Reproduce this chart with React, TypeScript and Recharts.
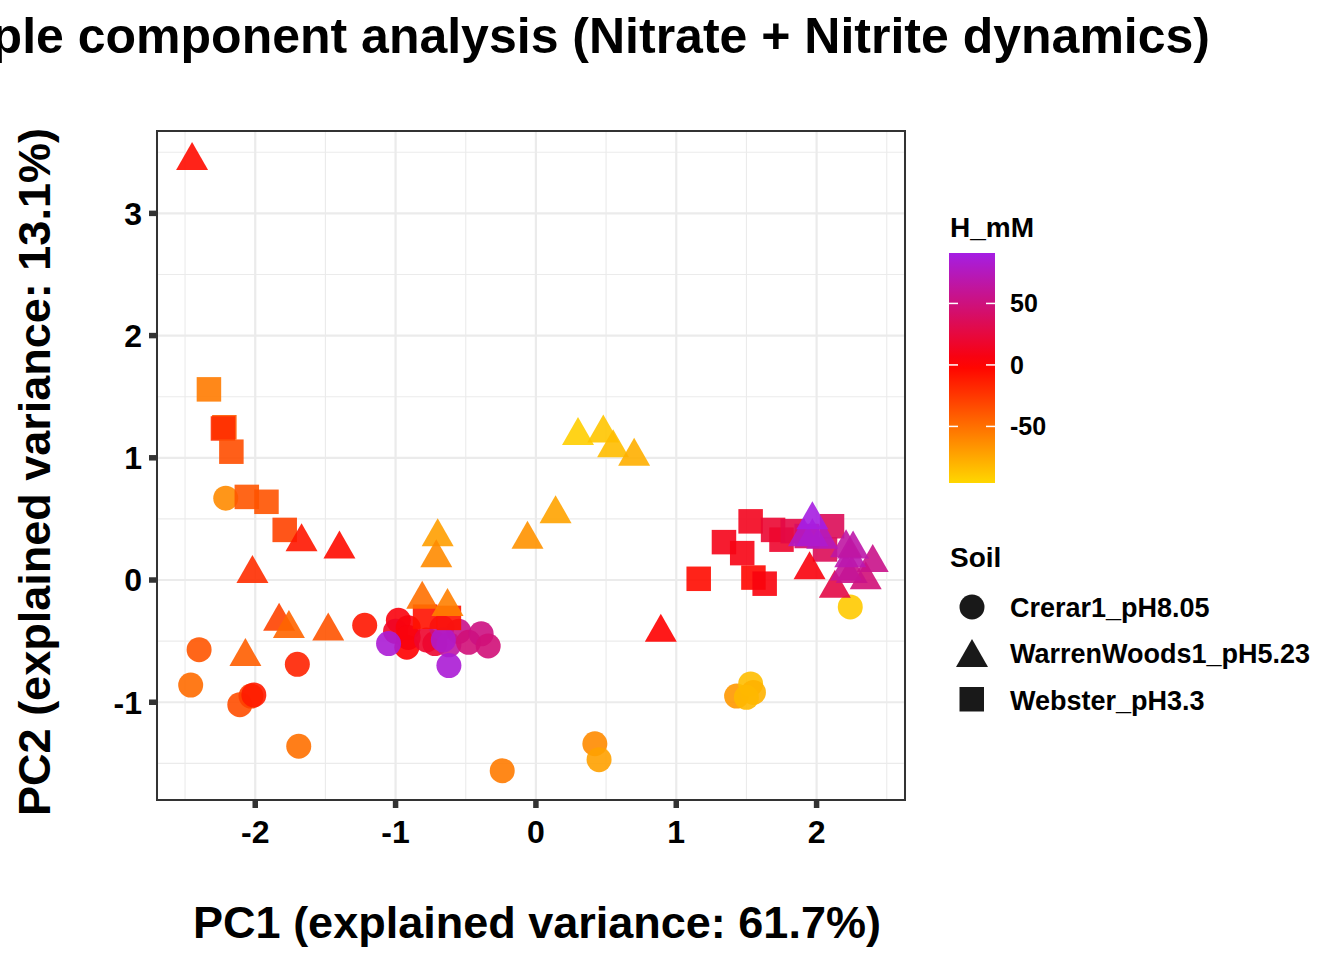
import React from 'react';
import { CartesianGrid, ReferenceArea, Scatter, ScatterChart, XAxis, YAxis } from 'recharts';

// [PC1, PC2, H_mM]
const CRERAR: [number, number, number][] = [
    [-2.21, 0.67, -62], [-1.22, -0.37, -10], [-2.40, -0.57, -38], [-1.70, -0.69, -15],
    [-2.46, -0.86, -48], [-2.11, -1.02, -35], [-2.03, -0.95, -28], [-2.01, -0.94, -12],
    [-1.69, -1.36, -50], [-0.24, -1.56, -55], [0.42, -1.34, -62], [0.45, -1.47, -72],
    [1.43, -0.95, -68], [1.53, -0.85, -85], [1.55, -0.92, -80], [1.50, -0.96, -82],
    [2.24, -0.22, -90], [-0.98, -0.33, 5], [-1.00, -0.42, 15], [-0.91, -0.39, 5],
    [-0.92, -0.55, 0], [-0.91, -0.47, 5], [-0.72, -0.52, 20], [-0.78, -0.49, 18],
    [-0.67, -0.39, 50], [-0.62, -0.53, 65], [-0.55, -0.42, 55], [-0.48, -0.51, 48],
    [-0.39, -0.44, 52], [-0.34, -0.54, 48], [-0.66, -0.49, 80], [-1.05, -0.52, 85],
    [-0.62, -0.70, 85],
];

const WARREN: [number, number, number][] = [
    [-2.45, 3.47, -5], [-1.67, 0.35, -10], [-1.40, 0.29, -5], [-2.02, 0.09, -20],
    [-1.83, -0.30, -30], [-1.76, -0.36, -45], [-1.48, -0.38, -37], [-2.07, -0.59, -42],
    [-0.70, 0.39, -71], [-0.71, 0.22, -62], [-0.81, -0.12, -50], [-0.63, -0.18, -57],
    [-0.06, 0.37, -65], [0.14, 0.58, -73], [0.30, 1.22, -92], [0.48, 1.24, -88],
    [0.55, 1.12, -84], [0.70, 1.05, -78], [0.89, -0.39, 0], [1.95, 0.12, 5],
    [2.13, -0.03, 28], [2.35, 0.04, 48], [2.25, 0.09, 55], [2.21, 0.11, 60],
    [2.40, 0.18, 55], [2.24, 0.22, 70], [2.26, 0.29, 68], [2.21, 0.30, 65],
    [2.04, 0.37, 75], [1.91, 0.39, 78], [1.97, 0.39, 82], [1.97, 0.53, 90],
];

const WEBSTER: [number, number, number][] = [
    [-2.33, 1.56, -55], [-2.22, 1.25, -40], [-2.23, 1.24, -20], [-2.17, 1.05, -35],
    [-2.06, 0.68, -38], [-1.92, 0.64, -37], [-1.79, 0.41, -30], [-0.79, -0.30, -8],
    [-0.62, -0.31, -8], [1.16, 0.01, -5], [1.34, 0.31, 10], [1.53, 0.48, 12],
    [1.47, 0.22, 8], [1.55, 0.02, -3], [1.63, -0.03, 5], [1.69, 0.41, 20],
    [1.75, 0.33, 18], [1.83, 0.40, 28], [2.11, 0.44, 35], [2.06, 0.25, 35],
    [1.93, 0.36, 40],
];

const SOIL_LABELS = ['Crerar1_pH8.05', 'WarrenWoods1_pH5.23', 'Webster_pH3.3'];
const X_TICKS = [-2, -1, 0, 1, 2];
const Y_TICKS = [-1, 0, 1, 2, 3];
const X_MINOR = [-2.5, -1.5, -0.5, 0.5, 1.5, 2.5];
const Y_MINOR = [-1.5, -0.5, 0.5, 1.5, 2.5, 3.5];
const H_TICKS = [50, 0, -50];
const H_RANGE: [number, number] = [-96, 91];
const X_DOMAIN: [number, number] = [-2.70, 2.63];
const Y_DOMAIN: [number, number] = [-1.80, 3.674];

const FONT = '"Liberation Sans", Arial, sans-serif';
const W = 1344;
const H = 960;
const CHART_MARGIN = { top: 131, right: 439, bottom: 100, left: 97 };
const TICK_STYLE = { fill: '#000', fontSize: 32, fontWeight: 700, fontFamily: FONT };
const TICK_LINE = { stroke: '#333', strokeWidth: 5.5 };
const ALPHA = 0.9;

const LOW = [255, 215, 0];
const MID = [255, 0, 0];
const HIGH = [160, 32, 240];

// gradient2 style: gold -> red (0) -> purple
function hColor(h: number) {
    const half = Math.max(-H_RANGE[0], H_RANGE[1]);
    const t = Math.min(1, Math.abs(h) / half);
    const end = h < 0 ? LOW : HIGH;
    const c = MID.map((m, i) => Math.round(m + (end[i] - m) * t));
    return `rgb(${c[0]},${c[1]},${c[2]})`;
}

const toRows = (rows: [number, number, number][]) => rows.map(([x, y, h]) => ({ x, y, h }));

const circleShape = (p: any) => (
    <circle cx={p.cx} cy={p.cy} r={12.5} fill={hColor(p.payload.h)} fillOpacity={ALPHA} />
);

const squareShape = (p: any) => (
    <rect x={p.cx - 12.25} y={p.cy - 12.25} width={24.5} height={24.5} fill={hColor(p.payload.h)} fillOpacity={ALPHA} />
);

const triPoints = (cx: number, cy: number) => `${cx},${cy - 14} ${cx - 16},${cy + 14} ${cx + 16},${cy + 14}`;

const triangleShape = (p: any) => (
    <polygon points={triPoints(p.cx, p.cy)} fill={hColor(p.payload.h)} fillOpacity={ALPHA} />
);

const Legend: React.FC = () => {
    const barTop = 253;
    const barH = 230;
    const hy = (v: number) => barTop + ((H_RANGE[1] - v) / (H_RANGE[1] - H_RANGE[0])) * barH;
    const stops = Array.from({ length: 21 }, (_, i) => H_RANGE[1] - (i / 20) * (H_RANGE[1] - H_RANGE[0]));
    return (
        <g fontFamily={FONT} fontWeight={700} fill="#000">
            <defs>
                <linearGradient id="hgrad" x1="0" y1="0" x2="0" y2="1">
                    {stops.map((v, i) => (
                        <stop key={i} offset={i / 20} stopColor={hColor(v)} />
                    ))}
                </linearGradient>
            </defs>
            <text x={950} y={237} fontSize={28}>H_mM</text>
            <rect x={949} y={barTop} width={46} height={barH} fill="url(#hgrad)" />
            {H_TICKS.map((v) => (
                <g key={v}>
                    <line x1={949} x2={958} y1={hy(v)} y2={hy(v)} stroke="#fff" strokeWidth={1.5} />
                    <line x1={986} x2={995} y1={hy(v)} y2={hy(v)} stroke="#fff" strokeWidth={1.5} />
                    <text x={1010} y={hy(v) + 9} fontSize={25}>{v}</text>
                </g>
            ))}
            <text x={950} y={567} fontSize={28}>Soil</text>
            <circle cx={972} cy={607} r={12.5} fill="#000" fillOpacity={ALPHA} />
            <polygon points={triPoints(972, 653)} fill="#000" fillOpacity={ALPHA} />
            <rect x={959.5} y={687} width={24.5} height={24.5} fill="#000" fillOpacity={ALPHA} />
            <text x={1010} y={617} fontSize={27}>{SOIL_LABELS[0]}</text>
            <text x={1010} y={663} fontSize={27}>{SOIL_LABELS[1]}</text>
            <text x={1010} y={710} fontSize={27}>{SOIL_LABELS[2]}</text>
        </g>
    );
};

const App: React.FC = () => {
    const crerar = React.useMemo(() => toRows(CRERAR), []);
    const warren = React.useMemo(() => toRows(WARREN), []);
    const webster = React.useMemo(() => toRows(WEBSTER), []);

    return (
        <div style={{ position: 'absolute', left: 0, top: 0, width: W, height: H, background: '#fff' }}>
            <ScatterChart width={W} height={H} margin={CHART_MARGIN}>
                <CartesianGrid
                    stroke="#EBEBEB"
                    strokeWidth={1.1}
                    verticalValues={X_MINOR}
                    horizontalValues={Y_MINOR}
                />
                <CartesianGrid stroke="#EBEBEB" strokeWidth={2.2} />
                <XAxis
                    type="number"
                    dataKey="x"
                    domain={X_DOMAIN}
                    ticks={X_TICKS}
                    allowDataOverflow
                    axisLine={false}
                    tickLine={TICK_LINE}
                    tickSize={8}
                    tickMargin={12}
                    tick={TICK_STYLE}
                    height={60}
                    interval={0}
                />
                <YAxis
                    type="number"
                    dataKey="y"
                    domain={Y_DOMAIN}
                    ticks={Y_TICKS}
                    allowDataOverflow
                    axisLine={false}
                    tickLine={TICK_LINE}
                    tickSize={8}
                    tickMargin={7}
                    tick={TICK_STYLE}
                    width={60}
                    interval={0}
                />
                <Scatter name={SOIL_LABELS[0]} data={crerar} shape={circleShape} isAnimationActive={false} />
                <Scatter name={SOIL_LABELS[2]} data={webster} shape={squareShape} isAnimationActive={false} />
                <Scatter name={SOIL_LABELS[1]} data={warren} shape={triangleShape} isAnimationActive={false} />
                <ReferenceArea
                    x1={X_DOMAIN[0]}
                    x2={X_DOMAIN[1]}
                    y1={Y_DOMAIN[0]}
                    y2={Y_DOMAIN[1]}
                    fill="none"
                    stroke="#333"
                    strokeWidth={2}
                    ifOverflow="visible"
                />
            </ScatterChart>
            <svg width={W} height={H} style={{ position: 'absolute', left: 0, top: 0, pointerEvents: 'none' }}>
                <text x={1210} y={53} textAnchor="end" fontFamily={FONT} fontWeight={700} fontSize={50}>
                    Principle component analysis (Nitrate + Nitrite dynamics)
                </text>
                <text x={537} y={938} textAnchor="middle" fontFamily={FONT} fontWeight={700} fontSize={45}>
                    PC1 (explained variance: 61.7%)
                </text>
                <text
                    transform="translate(50 472) rotate(-90)"
                    textAnchor="middle"
                    fontFamily={FONT}
                    fontWeight={700}
                    fontSize={45}
                >
                    PC2 (explained variance: 13.1%)
                </text>
                <Legend />
            </svg>
        </div>
    );
};

export default App;
